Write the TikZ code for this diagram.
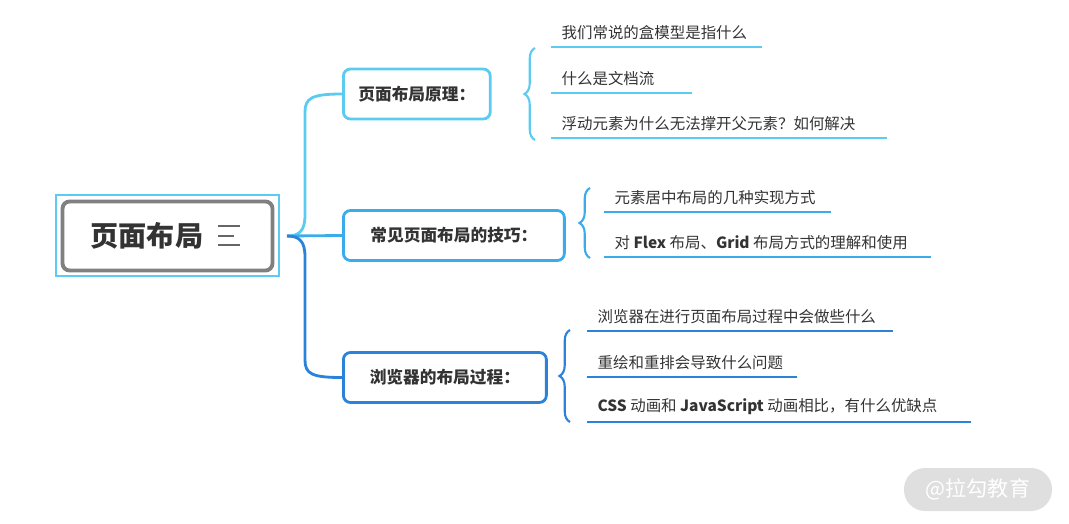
\documentclass[tikz,border=0pt]{standalone}
\usepackage{fontspec}
\setmainfont{Noto Sans CJK SC}
\usetikzlibrary{positioning,calc,decorations.pathreplacing}
\definecolor{cA}{HTML}{5BCBF2}
\definecolor{cB}{HTML}{3AACEC}
\definecolor{cC}{HTML}{2B82D9}
\tikzset{
  topic/.style={draw=#1, line width=1.6pt, rounded corners=4pt, minimum height=1cm,
    font=\fontsize{9.5}{11}\selectfont\bfseries, text=black!80, inner xsep=0.3cm},
  leaf/.style={font=\fontsize{8.8}{10}\selectfont, text=black!80, anchor=south west, inner sep=3pt},
  uline/.style={draw=#1, line width=1.6pt},
  link/.style={draw=#1, line width=1.6pt},
  grp/.style={draw=#1, line width=1.2pt, decorate, decoration={brace, amplitude=6pt, mirror}}
}
\begin{document}
\begin{tikzpicture}[x=0.02cm, y=-0.02cm]
\useasboundingbox (0,0) rectangle (1069,524);
% root
\draw[cA, line width=0.8pt] (56,195) rectangle (279,276);
\node[draw=gray, line width=2.2pt, rounded corners=4pt, minimum width=4.2cm, minimum height=1.38cm] (root) at (167.5,236) {};
\node[font=\fontsize{16}{18}\selectfont\bfseries, text=black!80] (rtxt) at (147,236) {页面布局};
\foreach \y/\w in {226/22,236/16,245/22}
  \draw[gray!80!black, line width=1pt] (218,\y) -- ++(\w,0);
% topics
\node[topic=cA, anchor=west, minimum width=2.8cm] (t1) at (342,94) {页面布局原理：};
\node[topic=cB, anchor=west, minimum width=4.42cm] (t2) at (342,235.5) {常见页面布局的技巧：};
\node[topic=cC, anchor=west, minimum width=4.06cm] (t3) at (342,377.5) {浏览器的布局过程：};
\coordinate (r0) at (287,236);
\draw[link=cA] (r0) .. controls (300,236) and (305,230) .. (305,215) -- (305,112) .. controls (305,98) and (312,94) .. (t1.west);
\draw[link=cB] (r0) -- (t2.west);
\draw[link=cC] (r0) .. controls (300,236) and (305,242) .. (305,257) -- (305,360) .. controls (305,374) and (312,377.5) .. (t3.west);
% group 1
\draw[grp=cA] (535,48) -- (535,140);
\node[leaf] (a1) at (556,45) {我们常说的盒模型是指什么};
\node[leaf] (a2) at (556,91) {什么是文档流};
\node[leaf] (a3) at (556,136) {浮动元素为什么无法撑开父元素？如何解决};
\draw[uline=cA] (551,47) -- (762,47);
\draw[uline=cA] (551,93) -- (692,93);
\draw[uline=cA] (551,138) -- (887,138);
% group 2
\draw[grp=cB] (590,188) -- (590,258);
\node[leaf] (b1) at (609,210) {元素居中布局的几种实现方式};
\node[leaf] (b2) at (609,255) {对 \textbf{Flex} 布局、\textbf{Grid} 布局方式的理解和使用};
\draw[uline=cB] (604,212) -- (831,212);
\draw[uline=cB] (604,257) -- (931,257);
% group 3
\draw[grp=cC] (570,330) -- (570,422);
\node[leaf] (c1) at (592,329) {浏览器在进行页面布局过程中会做些什么};
\node[leaf] (c2) at (592,375) {重绘和重排会导致什么问题};
\node[leaf] (c3) at (592,420) {\textbf{CSS} 动画和 \textbf{JavaScript} 动画相比，有什么优缺点};
\draw[uline=cC] (587,331) -- (893,331);
\draw[uline=cC] (587,377) -- (797,377);
\draw[uline=cC] (587,422) -- (971,422);
% watermark
\node[fill=gray!25, rounded corners=0.42cm, minimum width=2.96cm, minimum height=0.86cm,
  text=white, font=\fontsize{12}{14}\selectfont] (wm) at (978,489.5) {@拉勾教育};
\end{tikzpicture}
\end{document}
